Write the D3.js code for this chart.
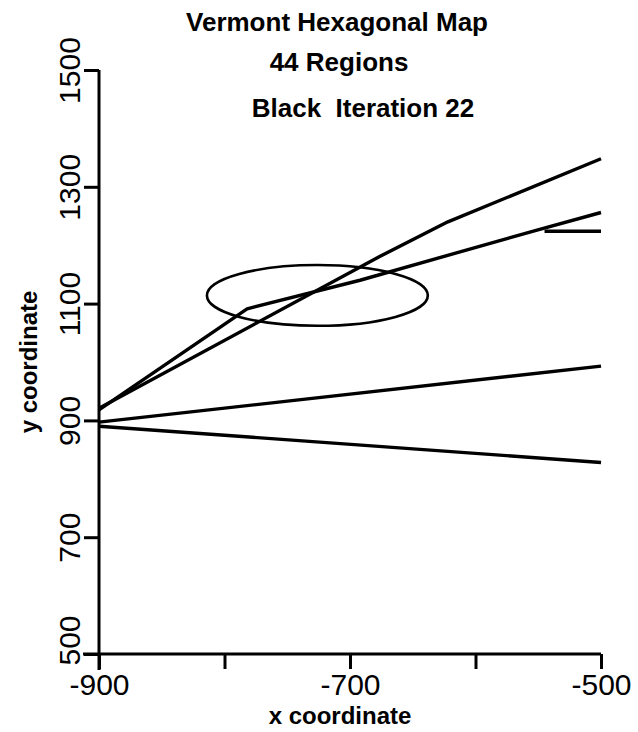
<!DOCTYPE html>
<html>
<head>
<meta charset="utf-8">
<script src="https://cdn.jsdelivr.net/npm/d3@7"></script>
<style>
  html, body { margin: 0; padding: 0; background: #fff; }
  svg { display: block; }
  text { font-family: "Liberation Sans", Arial, Helvetica, sans-serif; fill: #000; }
</style>
</head>
<body>
<svg id="chart" width="638" height="732"></svg>
<script>
// Title block
const titleLines = ["Vermont Hexagonal Map", "44 Regions", "Black  Iteration 22"];

// Axis ticks
const xTicks = [-900, -800, -700, -600, -500];
const xTickLabels = [-900, -700, -500];
const yTicks = [500, 700, 900, 1100, 1300, 1500];

// Region boundary traces (x, y map coordinates)
const traceA = [[-900, 921], [-676, 1181], [-622, 1240], [-500, 1348]];
const traceB = [[-900, 918], [-782, 1091], [-692, 1140], [-551, 1226], [-500, 1256]];
const traceBStub = [[-545, 1224], [-500, 1224]];
const traceC = [[-900, 897], [-500, 993]];
const traceD = [[-900, 890], [-500, 828]];
const traces = [traceA, traceB, traceBStub, traceC, traceD];

// Region outline ellipse: centre and semi-axes in map units
const ellipseCenter = [-726, 1114];
const ellipseRadii = [88, 52];

const svg = d3.select("#chart");
const x = d3.scaleLinear().domain([-900, -500]).range([99, 601]);
const y = d3.scaleLinear().domain([500, 1500]).range([654, 70]);

// Titles
const titleX = [337, 339, 363];
const titleY = [31, 71, 117];
svg.selectAll("text.title").data(titleLines).join("text")
  .attr("class", "title")
  .attr("x", (d, i) => titleX[i])
  .attr("y", (d, i) => titleY[i])
  .attr("text-anchor", "middle")
  .attr("font-size", 26)
  .attr("font-weight", "bold")
  .style("white-space", "pre")
  .text(d => d);

// X axis
const xAxis = svg.append("g")
  .attr("transform", `translate(0,${y(500)})`)
  .call(d3.axisBottom(x).tickValues(xTicks).tickSize(15).tickSizeOuter(0)
    .tickFormat(d => xTickLabels.includes(d) ? d : ""));
xAxis.select(".domain").attr("stroke", "#000").attr("stroke-width", 3)
  .attr("d", `M${x(-900) - 16},0H${x(-500)}`);
xAxis.selectAll(".tick line").attr("stroke", "#000").attr("stroke-width", 3);
xAxis.selectAll(".tick text")
  .attr("font-size", 30).attr("y", 17).attr("dy", "0.8em")
  .style("font-family", "'Liberation Sans', Arial, sans-serif").attr("fill", "#000");

// Y axis (the bottom label sits above its tick to clear the x labels)
const yAxis = svg.append("g")
  .attr("transform", `translate(${x(-900)},0)`)
  .call(d3.axisLeft(y).tickValues(yTicks).tickSize(15).tickSizeOuter(0).tickFormat(d => d));
yAxis.select(".domain").attr("stroke", "#000").attr("stroke-width", 3)
  .attr("d", `M0,${y(1500)}V${y(500) + 16}`);
yAxis.selectAll(".tick line").attr("stroke", "#000").attr("stroke-width", 3);
yAxis.selectAll(".tick text")
  .attr("font-size", 30)
  .attr("x", null).attr("dy", null)
  .attr("text-anchor", "middle")
  .attr("transform", d => `translate(-19,${d === 500 ? -14 : 0}) rotate(-90)`)
  .style("font-family", "'Liberation Sans', Arial, sans-serif").attr("fill", "#000");

// Axis titles
svg.append("text")
  .attr("x", 340).attr("y", 724)
  .attr("text-anchor", "middle")
  .attr("font-size", 24).attr("font-weight", "bold")
  .text("x coordinate");
svg.append("text")
  .attr("transform", "translate(37,362) rotate(-90)")
  .attr("text-anchor", "middle")
  .attr("font-size", 24).attr("font-weight", "bold")
  .text("y coordinate");

// Traces
const line = d3.line().x(d => x(d[0])).y(d => y(d[1]));
svg.append("g").selectAll("path").data(traces).join("path")
  .attr("d", line)
  .attr("fill", "none")
  .attr("stroke", "#000")
  .attr("stroke-width", 3.4)
  .attr("stroke-linejoin", "round");

// Ellipse
svg.append("ellipse")
  .attr("cx", x(ellipseCenter[0]))
  .attr("cy", y(ellipseCenter[1]))
  .attr("rx", x(ellipseCenter[0] + ellipseRadii[0]) - x(ellipseCenter[0]))
  .attr("ry", y(ellipseCenter[1]) - y(ellipseCenter[1] + ellipseRadii[1]))
  .attr("fill", "none")
  .attr("stroke", "#000")
  .attr("stroke-width", 2.6);
</script>
</body>
</html>
